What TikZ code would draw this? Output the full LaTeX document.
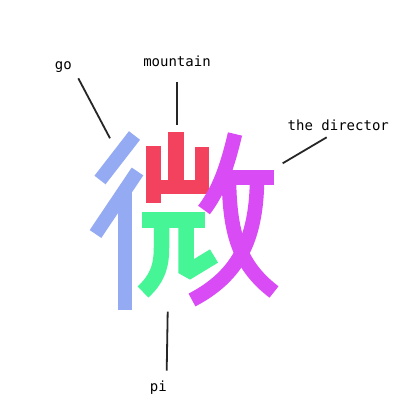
\documentclass[tikz,border=0pt]{standalone}
\usepackage{fontspec}
\newfontfamily\labfont{DejaVu Sans Mono}
\definecolor{cgo}{HTML}{94AAF2}
\definecolor{cmount}{HTML}{F2425E}
\definecolor{cpi}{HTML}{45F596}
\definecolor{cdir}{HTML}{D94CF5}
\begin{document}
\begin{tikzpicture}[x=1pt,y=-1pt,
  lab/.style={font=\labfont\fontsize{14}{16}\selectfont, anchor=base, inner sep=0pt},
  leader/.style={line width=1.8pt, draw=black!85},
  gostroke/.style={draw=cgo, line width=14pt},
  pistroke/.style={draw=cpi, line width=15.5pt},
  dirstroke/.style={draw=cdir, line width=14.5pt}]
\useasboundingbox[fill=white] (0,0) rectangle (413,412);

% 彳 (go)
\draw[gostroke] (134.5,135.5) -- (100,180);
\draw[gostroke] (137.5,171.5) -- (95.5,234);
\draw[gostroke] (124.7,190) -- (124.7,309.5);

% 山 (mountain)
\fill[cmount] (146,146) rectangle (160.5,203);
\fill[cmount] (168,132) rectangle (183.5,193);
\fill[cmount] (195,147) rectangle (209,193);
\fill[cmount] (146,180) rectangle (209,193.5);

% pi
\fill[cpi] (141.5,211.5) rectangle (205,228);
\draw[pistroke] (161.5,226) -- (161.5,248) .. controls (161.5,268) and (156,280) .. (143,292);
\draw[pistroke, line join=bevel] (186,226) -- (186,273) -- (214,256);

% 攵 (the director)
\draw[dirstroke] (235,134) .. controls (227,168) and (219,190) .. (204,210);
\draw[dirstroke, line width=15pt] (220,177.5) -- (273.5,177.5);
\draw[dirstroke] (229,182) .. controls (230,235) and (240,266) .. (274,292);
\draw[dirstroke] (257,182) .. controls (256,240) and (238,276) .. (192,300);

% labels
\node[lab] (go) at (63.3,69.5) {go};
\node[lab] (mountain) at (177,66.7) {mountain};
\node[lab] (director) at (338.3,130.7) {the director};
\node[lab] (pi) at (158.3,391) {pi};

\coordinate (goA) at (78.3,78.3);
\coordinate (goB) at (110,138.3);
\coordinate (mA) at (176.7,81.7);
\coordinate (mB) at (176.7,125);
\coordinate (dA) at (326.7,137.3);
\coordinate (dB) at (282.7,163.3);
\coordinate (pA) at (167.7,311.7);
\coordinate (pB) at (166.7,370.7);
\draw[leader] (goA) -- (goB);
\draw[leader] (mA) -- (mB);
\draw[leader] (dA) -- (dB);
\draw[leader] (pA) -- (pB);
\end{tikzpicture}
\end{document}
